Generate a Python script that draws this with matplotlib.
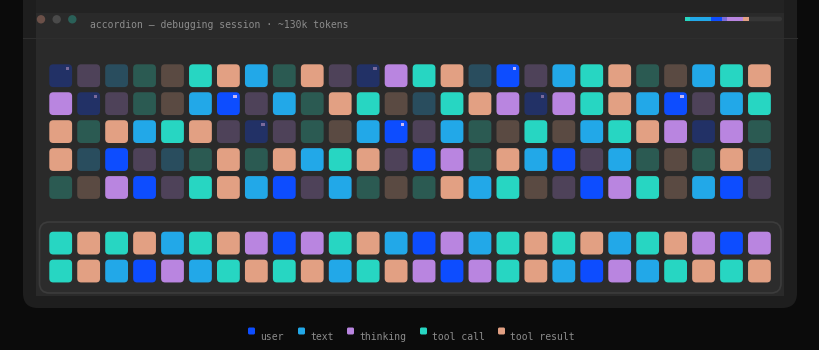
import matplotlib
matplotlib.use("Agg")
import matplotlib.pyplot as plt
from matplotlib.patches import FancyBboxPatch, Circle, Rectangle

# message types: U user, T text, K thinking, C tool call, R tool result; lowercase = collapsed (dim)
top_rows = [
    "u k t c r C R T c R k u K C R t U k T C R c r T C R",
    "K u k c r T U k T c R C r t C R K u K C R T U k T C",
    "R c R T C R k u k c r T U k T c r C r T C R K u K c",
    "R t U k t c R c R T C R k U K c R T U k T c r c R t",
    "c r K U k C R T U k T c r c R T C r k U K C r T U k",
]
bottom_rows = [
    "C R C R T C R K U K C R T U K T C R C R T C R K U K",
    "C R T U K T C R C R T C R K U K C R T U K T C R C R",
]
markers = [(0, 0), (1, 1), (2, 7), (0, 11), (0, 16), (1, 6), (1, 17), (2, 12), (1, 22)]

labels = ["user", "text", "thinking", "tool call", "tool result"]
keys = ["U", "T", "K", "C", "R"]
bright = ["#0d4dff", "#22a8e8", "#b985e0", "#27d6c2", "#e2a083"]
dim = ["#223166", "#294d5e", "#4e4259", "#2b5a52", "#5a4a42"]
colors = {k: c for k, c in zip(keys, bright)}
colors.update({k.lower(): c for k, c in zip(keys, dim)})

# composition bar at the top right (share of the bar, colour)
bar_shares = [0.05, 0.22, 0.11, 0.05, 0.17, 0.06]
bar_colors = ["#27d6c2", "#22a8e8", "#0d4dff", "#7a6ad8", "#b985e0", "#e2a083"]

title = "accordion \u2014 debugging session \u00b7 ~130k tokens"

fig = plt.figure(figsize=(8.2, 3.5), dpi=100)
fig.patch.set_facecolor("#0b0b0b")
ax = fig.add_axes([0, 0, 1, 1])
ax.set_xlim(0, 820)
ax.set_ylim(350, 0)
ax.axis("off")

# window frame
ax.add_patch(FancyBboxPatch((23, -20), 774, 328, boxstyle="round,pad=0,rounding_size=15",
                            fc="#1e1e1e", ec="none"))
ax.add_patch(Rectangle((36, -5), 748, 18, fc="#232323", ec="none"))
ax.add_patch(Rectangle((36, 13), 748, 283, fc="#2a2a2a", ec="none"))
ax.plot([23, 797], [38, 38], color="#2e2e2e", lw=0.8)
ax.add_patch(Rectangle((36, 38), 748, 258, fc="#2a2a2a", ec="none"))

# traffic lights
for cx, c in zip([41, 56.7, 72.3], ["#6b5048", "#4a4a4a", "#2a6058"]):
    ax.add_patch(Circle((cx, 19.3), 4.2, fc=c, ec="none"))
ax.text(90, 25.5, title, color="#8c8c8c", fontsize=7, family="DejaVu Sans Mono", va="center")

# composition bar
ax.add_patch(FancyBboxPatch((685, 16.7), 97, 4.6, boxstyle="round,pad=0,rounding_size=2.3",
                            fc="#363636", ec="none"))
bx = 685
for share, c in zip(bar_shares, bar_colors):
    w = share * 97
    ax.add_patch(Rectangle((bx, 16.7), w, 4.6, fc=c, ec="none"))
    bx += w

# lower panel
ax.add_patch(FancyBboxPatch((39.5, 222), 741.5, 71, boxstyle="round,pad=0,rounding_size=10",
                            fc="#2c2c2c", ec="#3c3c3c", lw=1.2))

pitch = 27.95
size = 22.8


def draw_grid(rows, x0, y0, mark=()):
    for r, row in enumerate(rows):
        for c, k in enumerate(row.split()):
            x = x0 + c * pitch
            y = y0 + r * pitch
            ax.add_patch(FancyBboxPatch((x, y), size, size, boxstyle="round,pad=0,rounding_size=4",
                                        fc=colors[k], ec="none"))
            if (r, c) in mark:
                mc = "#c8b8f0" if k.isupper() else "#7a6a9a"
                ax.add_patch(Rectangle((x + size - 6.5, y + 2.5), 3.5, 3, fc=mc, ec="none"))


draw_grid(top_rows, 49.3, 64.3, markers)
draw_grid(bottom_rows, 49.3, 231.7)

# legend
lx = [248, 298, 347, 420, 498]
for x, lab, c in zip(lx, labels, bright):
    ax.add_patch(FancyBboxPatch((x, 327.5), 7, 7, boxstyle="round,pad=0,rounding_size=1.5",
                                fc=c, ec="none"))
    ax.text(x + 12, 337, lab, color="#8c8c8c", fontsize=7, family="DejaVu Sans Mono", va="center")

fig.savefig("out.png", dpi=100, facecolor=fig.get_facecolor())
